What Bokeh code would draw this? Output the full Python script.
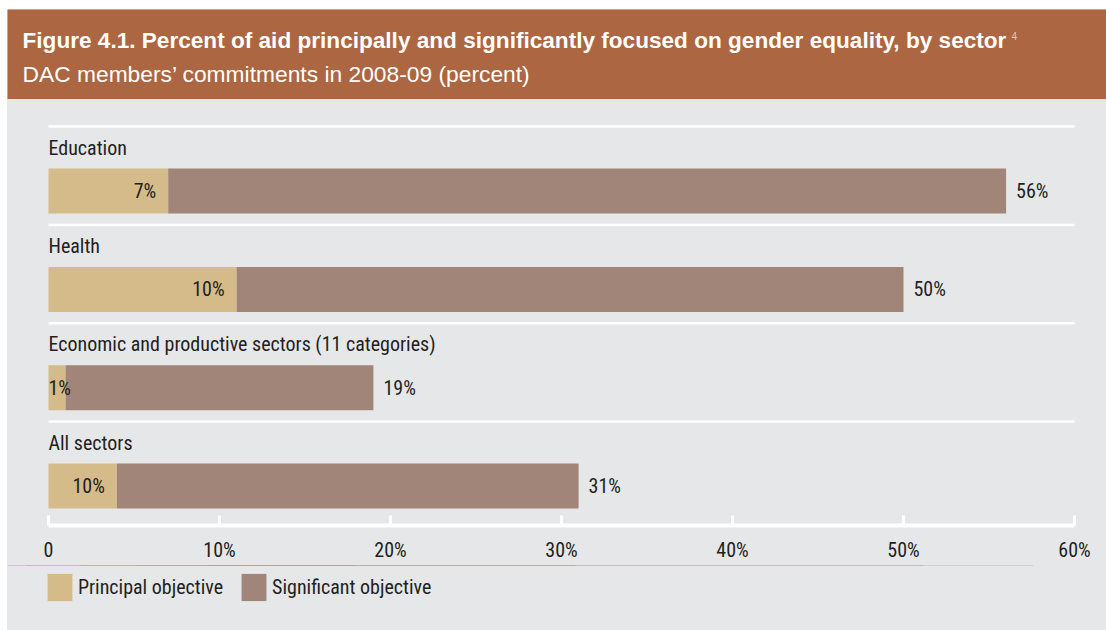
from bokeh.plotting import figure
from bokeh.layouts import column
from bokeh.models import Range1d, FixedTicker, Label, Legend, LegendItem, ColumnDataSource
from bokeh.core.properties import value
from bokeh.embed import file_html
from bokeh.resources import INLINE

# ---- data ----
categories = ["Education", "Health", "Economic and productive sectors (11 categories)", "All sectors"]
principal = [7, 11, 1, 4]
total = [56, 50, 19, 31]
principal_labels = ["7%", "10%", "1%", "10%"]
total_labels = ["56%", "50%", "19%", "31%"]
series_names = ["Principal objective", "Significant objective"]
tick_values = [0, 10, 20, 30, 40, 50, 60]
tick_labels = ["0", "10%", "20%", "30%", "40%", "50%", "60%"]
title_text = "Figure 4.1. Percent of aid principally and significantly focused on gender equality, by sector"
title_note = "4"
subtitle_text = "DAC members\u2019 commitments in 2008-09 (percent)"

# ---- style ----
BROWN = "#AC6641"
GRAY = "#E6E7E9"
TAN = "#D5BB8A"
MAUVE = "#A08578"
TXT = "#231F20"
CFN = "Roboto Condensed"
HFN = "Liberation Sans"
CF = value(CFN)
FS = "20px"

W = 1099
HH = 90          # header height
CH = 466         # chart height
LH = 630 - 9 - HH - CH   # legend strip height
FRAME_B = 426
PXX = 1026 / 60.0
X0 = 41
UNIT = 98.3
BASE = 386.5  # chart-fig y of lowest bar center

def yd(fig_y):
    return (BASE - fig_y) / UNIT

def bare(fig, bg):
    fig.background_fill_color = bg
    fig.border_fill_color = bg
    fig.outline_line_color = None
    fig.xgrid.visible = False
    fig.ygrid.visible = False

# ---- header ----
hdr = figure(width=W, height=HH, output_backend="svg", toolbar_location=None,
             x_range=Range1d(0, W), y_range=Range1d(HH, 0),
             x_axis_location=None, y_axis_location=None,
             min_border_left=0, min_border_right=0, min_border_top=0, min_border_bottom=0)
bare(hdr, BROWN)
hdr.add_layout(Label(x=15, y=31, text=title_text, text_font=HFN, text_font_style="bold",
                     text_font_size="22.6px", text_color="white", text_baseline="middle"))
hdr.add_layout(Label(x=1004, y=26, text=title_note, text_font=HFN, text_font_size="10px",
                     text_color="#E9C9A8", text_baseline="middle"))
hdr.add_layout(Label(x=15, y=64, text=subtitle_text, text_font=HFN, text_font_size="22.8px",
                     text_color="white", text_baseline="middle"))

# ---- chart ----
n = len(categories)
ypos = list(range(n))[::-1]

p = figure(width=W, height=CH, output_backend="svg", toolbar_location=None,
           x_range=Range1d(-X0 / PXX, (W - X0) / PXX),
           y_range=Range1d(yd(FRAME_B), yd(0)),
           y_axis_location=None,
           min_border_left=0, min_border_right=0, min_border_top=0, min_border_bottom=CH - FRAME_B)
bare(p, GRAY)

src = ColumnDataSource(dict(y=ypos, cat=categories, principal=principal, total=total,
                            pl=principal_labels, tl=total_labels,
                            sep=[v + 64.5 / UNIT for v in ypos],
                            x0=[0] * n, x1=[60] * n))

p.segment(x0="x0", x1="x1", y0="sep", y1="sep", source=src, line_color="white", line_width=2.5)

bh = 45 / UNIT
p.hbar(y="y", left=0, right="principal", height=bh, source=src, fill_color=TAN, line_color=None)
p.hbar(y="y", left="principal", right="total", height=bh, source=src, fill_color=MAUVE, line_color=None)

p.text(x=0, y="y", text="cat", y_offset=-43.5, source=src, text_font=CF, text_font_size=FS,
       text_color=TXT, text_baseline="middle", text_align="left")

big = [i for i, v in enumerate(principal) if v >= 2]
small = [i for i, v in enumerate(principal) if v < 2]
p.text(x=[principal[i] for i in big], y=[ypos[i] for i in big], text=[principal_labels[i] for i in big],
       x_offset=-12, text_font=CF, text_font_size=FS, text_color=TXT,
       text_baseline="middle", text_align="right")
p.text(x=[0 for i in small], y=[ypos[i] for i in small], text=[principal_labels[i] for i in small],
       text_font=CF, text_font_size=FS, text_color=TXT,
       text_baseline="middle", text_align="left")
p.text(x="total", y="y", text="tl", x_offset=10, source=src, text_font=CF, text_font_size=FS,
       text_color=TXT, text_baseline="middle", text_align="left")

ax = p.xaxis[0]
ax.ticker = FixedTicker(ticks=tick_values)
ax.major_label_overrides = {v: l for v, l in zip(tick_values, tick_labels)}
ax.bounds = (0, 60)
ax.axis_line_color = "white"
ax.axis_line_width = 4
ax.major_tick_line_color = "white"
ax.major_tick_line_width = 3
ax.major_tick_in = 10
ax.major_tick_out = 0
ax.minor_tick_line_color = None
ax.major_label_standoff = 12
ax.major_label_text_font = CFN
ax.major_label_text_font_size = FS
ax.major_label_text_color = TXT

# ---- legend strip (same series, drawn off-range so only the key shows) ----
lg = figure(width=W, height=LH, output_backend="svg", toolbar_location=None,
            x_range=Range1d(0, 60), y_range=Range1d(-20, -19),
            x_axis_location=None, y_axis_location=None,
            min_border_left=0, min_border_right=0, min_border_top=0, min_border_bottom=0)
bare(lg, GRAY)
k1 = lg.hbar(y="y", left=0, right="principal", height=bh, source=src, fill_color=TAN, line_color=None)
k2 = lg.hbar(y="y", left="principal", right="total", height=bh, source=src, fill_color=MAUVE, line_color=None)
legend = Legend(items=[LegendItem(label=series_names[0], renderers=[k1]),
                       LegendItem(label=series_names[1], renderers=[k2])],
                location=(36.9, LH - 4.6 - 34), orientation="horizontal",
                glyph_width=31, glyph_height=34, label_standoff=3, spacing=15,
                padding=0, margin=0, border_line_color=None, background_fill_alpha=0,
                label_text_font=CFN, label_text_font_size=FS, label_text_color=TXT)
lg.add_layout(legend, "center")

lay = column(hdr, p, lg, spacing=0)
lay.margin = (9, 0, 0, 7)
lay.styles = {"background-color": GRAY}
open("out.html", "w").write(file_html(lay, INLINE))
